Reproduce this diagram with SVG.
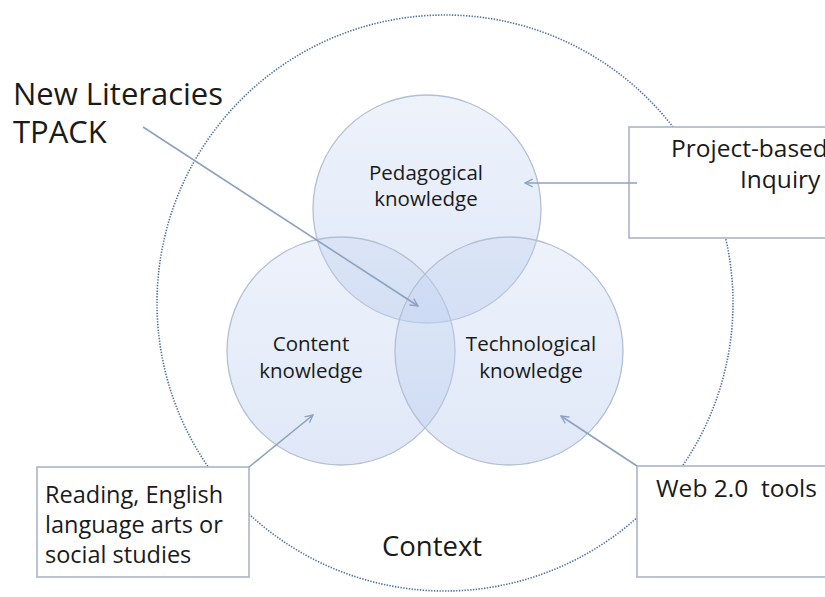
<svg xmlns="http://www.w3.org/2000/svg" width="825" height="597" viewBox="0 0 825 597">
<defs>
<style>
.lbl{font-family:"Open Sans","Liberation Sans",sans-serif;fill:#1a1a1a}
.venn{stroke:#b3bfd3;stroke-width:1.3;fill:url(#vg)}
.box{fill:#ffffff;stroke:#aab5c8;stroke-width:1.6}
.conn{stroke:#8ea2bf;stroke-width:1.6;fill:none;marker-end:url(#ah)}
</style>
<linearGradient id="vg" x1="0" y1="0" x2="0" y2="1">
<stop offset="0" stop-color="#c3d3f1" stop-opacity="0.3"/>
<stop offset="1" stop-color="#b9cbef" stop-opacity="0.45"/>
</linearGradient>
<marker id="ah" viewBox="0 0 10 10" refX="9" refY="5" markerWidth="6" markerHeight="6" orient="auto" markerUnits="strokeWidth">
<path d="M1,1 L9,5 L1,9" fill="none" stroke="#8ea2bf" stroke-width="1.4"/>
</marker>
</defs>
<rect width="825" height="597" fill="#ffffff"/>
<g id="context">
<circle cx="445" cy="303" r="288" fill="none" stroke="#4f73a0" stroke-width="1.6" stroke-dasharray="1.4 1.4"/>
<text class="lbl" x="432" y="556" font-size="27.5" text-anchor="middle">Context</text>
</g>
<g id="pedagogical">
<circle class="venn" cx="427" cy="209" r="114"/>
<text class="lbl" x="426" y="180" font-size="20.5" text-anchor="middle">Pedagogical</text>
<text class="lbl" x="426" y="206" font-size="20.5" text-anchor="middle">knowledge</text>
</g>
<g id="content">
<circle class="venn" cx="341" cy="351" r="114"/>
<text class="lbl" x="311" y="351" font-size="20.5" text-anchor="middle">Content</text>
<text class="lbl" x="311" y="378" font-size="20.5" text-anchor="middle">knowledge</text>
</g>
<g id="technological">
<circle class="venn" cx="509" cy="351" r="114"/>
<text class="lbl" x="531" y="351" font-size="20.5" text-anchor="middle">Technological</text>
<text class="lbl" x="531" y="378" font-size="20.5" text-anchor="middle">knowledge</text>
</g>
<g id="tpack-label">
<text class="lbl" x="13" y="105" font-size="31">New Literacies</text>
<text class="lbl" x="13" y="143" font-size="31">TPACK</text>
</g>
<g id="project-box">
<rect class="box" x="629" y="127" width="220" height="111"/>
<text class="lbl" x="671" y="157" font-size="24.5">Project-based</text>
<text class="lbl" x="740" y="188" font-size="24.5">Inquiry</text>
</g>
<g id="reading-box">
<rect class="box" x="37" y="467" width="212" height="110"/>
<text class="lbl" x="45" y="503" font-size="23.5">Reading, English</text>
<text class="lbl" x="45" y="533" font-size="23.5">language arts or</text>
<text class="lbl" x="45" y="563" font-size="23.5">social studies</text>
</g>
<g id="web-box">
<rect class="box" x="637" y="466" width="220" height="111"/>
<text class="lbl" x="656" y="497" font-size="24.5" xml:space="preserve">Web 2.0  tools</text>
</g>
<g id="connectors">
<line class="conn" x1="143" y1="127" x2="418" y2="306"/>
<line class="conn" x1="637" y1="183" x2="525" y2="183"/>
<line class="conn" x1="249" y1="467" x2="313" y2="415"/>
<line class="conn" x1="637" y1="466" x2="561" y2="416"/>
</g>
</svg>
